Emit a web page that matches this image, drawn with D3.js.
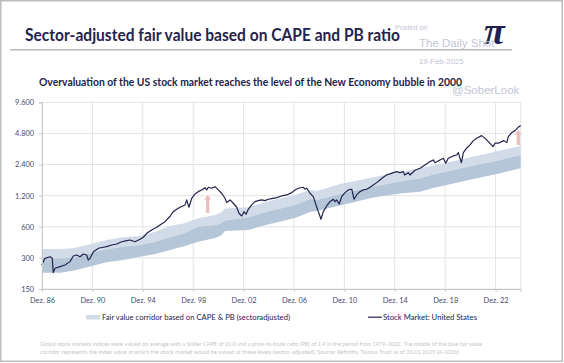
<!DOCTYPE html>
<html lang="de">
<head>
<meta charset="utf-8">
<title>Sector-adjusted fair value</title>
<script src="https://cdn.jsdelivr.net/npm/d3@7"></script>
<style>
body { margin: 0; background: #fff; }
svg { display: block; font-family: Lato, "Open Sans", sans-serif; }
</style>
</head>
<body>
<svg id="chart" width="564" height="363"></svg>
<script>

// stock market: United States (decimal year, index level)
var lineDates = [1986.9,1987.15,1987.55,1987.73,1987.81,1987.95,1988.35,1988.74,1989.14,1989.4,1989.67,1989.93,1990.2,1990.46,1990.59,1990.73,
  1991.0,1991.4,1991.78,1992.05,1992.45,1992.85,1993.24,1993.64,1993.9,1994.3,1994.7,1994.96,1995.23,1995.62,1996.02,1996.28,1996.68,
  1997.08,1997.34,1997.61,1997.87,1998.27,1998.4,1998.58,1998.8,1999.06,1999.32,1999.59,1999.85,1999.99,2000.12,2000.39,2000.65,2000.91,
  2001.18,2001.44,2001.58,2001.84,2002.1,2002.37,2002.55,2002.77,2002.95,2003.11,2003.29,2003.56,2003.82,2004.08,2004.35,2004.62,2004.88,
  2005.15,2005.55,2005.94,2006.34,2006.73,2007.0,2007.26,2007.66,2007.79,2007.93,2008.19,2008.45,2008.66,2008.85,2009.06,2009.24,2009.51,
  2009.77,2010.04,2010.17,2010.3,2010.51,2010.7,2010.97,2011.23,2011.5,2011.68,2011.89,2012.15,2012.42,2012.69,2012.95,2013.21,2013.48,
  2013.74,2014.0,2014.27,2014.53,2014.8,2015.07,2015.33,2015.59,2015.7,2015.99,2016.12,2016.52,2016.92,2017.31,2017.71,2017.97,2018.1,
  2018.5,2018.77,2018.96,2019.16,2019.56,2019.83,2019.96,2020.2,2020.36,2020.62,2020.89,2021.15,2021.42,2021.81,2022.02,2022.34,2022.72,
  2022.87,2023.13,2023.4,2023.58,2023.8,2023.93,2024.2,2024.46,2024.72,2024.91];
var lineValues = [256,297,308,297,216,238,247,256,276,313,320,308,327,320,286,297,
  344,372,380,385,400,409,430,440,447,430,454,475,519,559,593,625,672,
  758,840,886,927,976,1091,927,1132,1247,1312,1363,1434,1363,1446,1416,1465,1363,
  1266,1132,1027,1091,1013,927,811,763,840,793,886,976,1050,1073,1091,1073,1108,
  1123,1148,1192,1219,1283,1363,1416,1446,1385,1416,1266,1174,976,840,709,840,954,
  1050,1108,1050,1091,997,1174,1283,1363,1385,1108,1219,1312,1363,1385,1446,1524,1604,
  1703,1809,1904,1947,2004,2049,2004,2049,1900,2004,1900,2114,2210,2379,2561,2660,2500,
  2660,2762,2472,2762,2906,2971,3130,2504,3130,3451,3715,4087,4315,4570,4371,3998,3578,
  3859,3859,3998,4087,3910,4470,4887,5109,5512,5714];

// fair value corridor (upper edge, middle, lower edge)
var bandDates = [1986.92,1988.35,1989.38,1990.73,1992.05,1993.35,1994.7,1995.9,1997.08,1998.27,1999.32,2000.65,2001.12,2001.44,
  2003.29,2005.0,2007.0,2008.19,2008.72,2010.57,2013.21,2015.33,2016.92,2017.97,2020.62,2023.27,2024.91];
var bandTop = [366,366,372,406,447,475,489,538,611,653,725,781,825,902,927,1067,1219,1363,1333,1558,1809,2035,2210,2352,2762,3286,3632];
var bandMid = [297,297,301,332,363,385,400,430,475,523,601,625,646,691,742,853,976,1115,1091,1247,1473,1648,1768,1925,2276,2660,2971];
var bandLow = [216,216,225,247,272,286,308,327,358,391,430,467,494,546,559,639,730,835,853,965,1153,1260,1312,1425,1685,1977,2210];

var yTicks = [150, 300, 600, 1200, 2400, 4800, 9600];
var xTickYears = ["86","90","94","98","02","06","10","14","18","22"];

// overvaluation arrows: date, from, to
var arrowDates = [2000.07, 2024.72];
var arrowFrom = [816, 3715];
var arrowTo = [1219, 5190];

var footnote = [
  "Global stock markets indices were valued on average with a Shiller CAPE of 20.0 and a price-to-book ratio (PB) of 1.9 in the period from 1979-2022. The middle of the blue fair value",
  "corridor represents the index value at which the stock market would be valued at these levels (sector-adjusted). Source: Refinitiv, Taunus Trust as of 31.01.2025 (A-003b)."
];

var navy = "#23234d";
var svg = d3.select("#chart");

var margin = {top: 102.3, left: 42, bottom: 74, right: 43.3};
var W = 564, H = 363;

var x = d3.scaleLinear()
  .domain([1986.917, 2024.91])
  .range([margin.left, W - margin.right]);

var y = d3.scaleLog().base(2)
  .domain([150, 9600])
  .range([H - margin.bottom, margin.top]);

var de = d3.formatLocale({decimal: ",", thousands: ".", grouping: [3], currency: ["", "€"]});
var fmt = de.format(",");

// frame
svg.append("rect")
  .attr("x", 0.75).attr("y", 0.75).attr("width", W - 2.5).attr("height", H - 2.5)
  .attr("fill", "#fff").attr("stroke", "#bdbdbd").attr("stroke-width", 1.5);

// title
svg.append("text")
  .attr("x", 25).attr("y", 41)
  .attr("font-size", 16.5).attr("font-weight", 700).attr("fill", navy)
  .attr("textLength", 375).attr("lengthAdjust", "spacingAndGlyphs")
  .text("Sector-adjusted fair value based on CAPE and PB ratio");

svg.append("line")
  .attr("x1", 10).attr("x2", 512).attr("y1", 49.7).attr("y2", 49.7)
  .attr("stroke", "#b9b9b9").attr("stroke-width", 1.5);

svg.append("text")
  .attr("x", 39).attr("y", 86)
  .attr("font-size", 11.5).attr("font-weight", 700).attr("fill", navy)
  .attr("textLength", 423).attr("lengthAdjust", "spacingAndGlyphs")
  .text("Overvaluation of the US stock market reaches the level of the New Economy bubble in 2000");

// grid
var x0 = x.range()[0], x1 = x.range()[1];
var y0 = y.range()[0], y1 = y.range()[1];

svg.append("g").selectAll("line")
  .data(yTicks)
  .join("line")
  .attr("x1", x0).attr("x2", x1)
  .attr("y1", d => y(d)).attr("y2", d => y(d))
  .attr("stroke", "#e4e4e4").attr("stroke-width", 1);

svg.append("g").selectAll("line")
  .data(xTickYears)
  .join("line")
  .attr("x1", (d, i) => x(1986.917 + 4 * i)).attr("x2", (d, i) => x(1986.917 + 4 * i))
  .attr("y1", y0).attr("y2", y1)
  .attr("stroke", "#e4e4e4").attr("stroke-width", 1);

svg.append("line")
  .attr("x1", x1).attr("x2", x1).attr("y1", y0).attr("y2", y1)
  .attr("stroke", "#e4e4e4");

// corridor
var band = bandDates.map((d, i) => ({date: d, top: bandTop[i], mid: bandMid[i], low: bandLow[i]}));

svg.append("path")
  .datum(band)
  .attr("fill", "#d2dce8")
  .attr("d", d3.area().x(d => x(d.date)).y0(d => y(d.mid)).y1(d => y(d.top)));

svg.append("path")
  .datum(band)
  .attr("fill", "#b5c6d9")
  .attr("d", d3.area().x(d => x(d.date)).y0(d => y(d.low)).y1(d => y(d.mid)));

// arrows
arrowDates.forEach(function(d, i) {
  var ax = x(d), yb = y(arrowFrom[i]), yt = y(arrowTo[i]);
  svg.append("rect")
    .attr("x", ax - 1.6).attr("y", yt + 4).attr("width", 3.2).attr("height", yb - yt - 4)
    .attr("fill", "#ebbcbe");
  svg.append("path")
    .attr("d", `M${ax - 3.5},${yt + 4.5}L${ax},${yt}L${ax + 3.5},${yt + 4.5}Z`)
    .attr("fill", "#ebbcbe");
});

// stock market line
var series = lineDates.map((d, i) => ({date: d, value: lineValues[i]}));

svg.append("path")
  .datum(series)
  .attr("fill", "none")
  .attr("stroke", navy)
  .attr("stroke-width", 1.2)
  .attr("stroke-linejoin", "round")
  .attr("d", d3.line().x(d => x(d.date)).y(d => y(d.value)));

// axes
var yAxis = svg.append("g")
  .attr("transform", `translate(${x0},0)`)
  .call(d3.axisLeft(y).tickValues(yTicks).tickFormat(fmt).tickSize(3).tickPadding(5));

var xAxis = svg.append("g")
  .attr("transform", `translate(0,${y0})`)
  .call(d3.axisBottom(x)
    .tickValues(xTickYears.map((d, i) => 1986.917 + 4 * i))
    .tickFormat((d, i) => "Dez. " + xTickYears[i])
    .tickSize(3).tickPadding(6));

[yAxis, xAxis].forEach(function(g) {
  g.selectAll(".domain").attr("stroke", "#c8c8c8");
  g.selectAll(".tick line").attr("stroke", "#c8c8c8");
  g.selectAll("text").attr("fill", "#4a4a72").attr("font-size", 7.4)
    .attr("font-family", "Lato, 'Open Sans', sans-serif");
});

// legend
svg.append("rect")
  .attr("x", 86).attr("y", 315).attr("width", 14).attr("height", 4.5)
  .attr("fill", "#d2dce8");
svg.append("text")
  .attr("x", 102).attr("y", 320)
  .attr("font-size", 7.8).attr("fill", navy)
  .attr("textLength", 188).attr("lengthAdjust", "spacingAndGlyphs")
  .text("Fair value corridor based on CAPE & PB (sectoradjusted)");

svg.append("line")
  .attr("x1", 368).attr("x2", 382).attr("y1", 317.2).attr("y2", 317.2)
  .attr("stroke", navy).attr("stroke-width", 1.2);
svg.append("text")
  .attr("x", 383).attr("y", 320)
  .attr("font-size", 7.8).attr("fill", navy)
  .attr("textLength", 94).attr("lengthAdjust", "spacingAndGlyphs")
  .text("Stock Market: United States");

// footnote
svg.append("g").selectAll("text")
  .data(footnote)
  .join("text")
  .attr("x", 40).attr("y", (d, i) => 345.5 + i * 8.3)
  .attr("font-size", 5.3).attr("fill", "#c6c6c6")
  .attr("textLength", (d, i) => i === 0 ? 442 : 420).attr("lengthAdjust", "spacingAndGlyphs")
  .text(d => d);

// watermark + logo
var wm = "#c2c6d4";
svg.append("text").attr("x", 484).attr("y", 44).attr("font-size", 38)
  .attr("font-family", "Liberation Serif, serif").attr("font-style", "italic").attr("font-weight", 700)
  .attr("fill", "#1f1f52").text("π");

svg.append("text").attr("x", 395).attr("y", 30).attr("font-size", 7.2)
  .attr("font-family", "Liberation Sans, Arial, sans-serif").attr("fill", wm).text("Posted on");
svg.append("text").attr("x", 419).attr("y", 47).attr("font-size", 11.5)
  .attr("font-family", "Liberation Sans, Arial, sans-serif").attr("fill", wm).text("The Daily Shot");
svg.append("text").attr("x", 419).attr("y", 64).attr("font-size", 7.8)
  .attr("font-family", "Liberation Sans, Arial, sans-serif").attr("fill", wm).text("19-Feb-2025");
svg.append("text").attr("x", 452).attr("y", 94).attr("font-size", 11.5)
  .attr("font-family", "Liberation Sans, Arial, sans-serif").attr("fill", wm).text("@SoberLook");

</script>
</body>
</html>
